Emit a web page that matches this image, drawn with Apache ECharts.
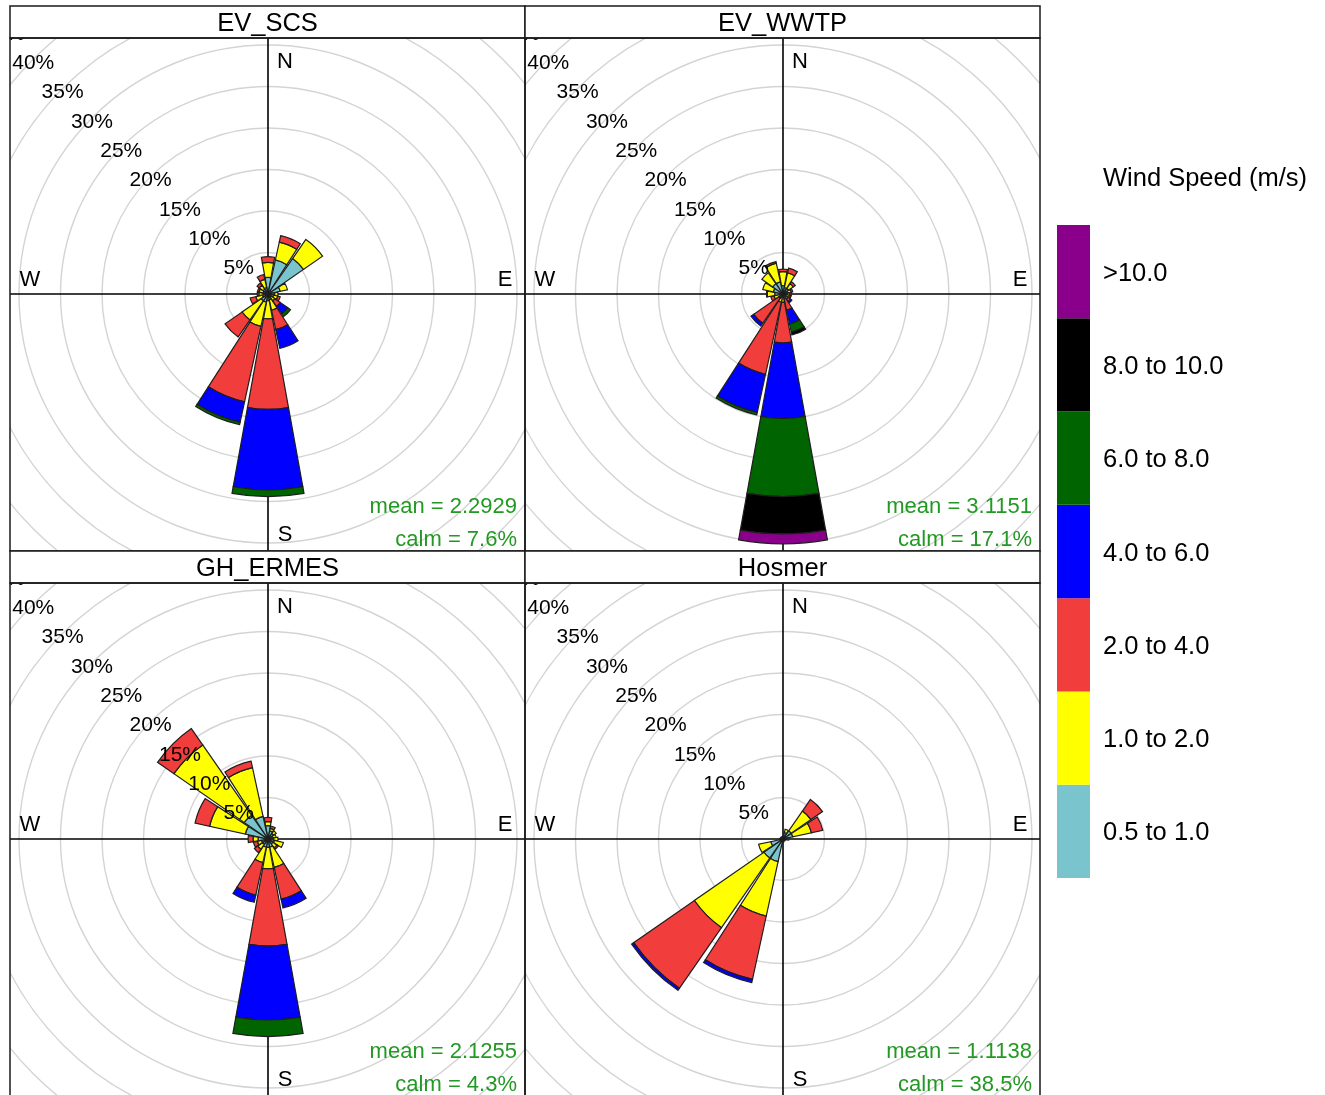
<!DOCTYPE html>
<html>
<head>
<meta charset="utf-8">
<script src="https://cdn.jsdelivr.net/npm/echarts@6/dist/echarts.min.js"></script>
<style>
  html, body { margin: 0; padding: 0; background: #ffffff; }
  #wrap { position: relative; width: 1325px; height: 1095px; overflow: hidden; }
  .panel { position: absolute; width: 515px; height: 513px; }
  #bg { position: absolute; left: 0; top: 0; width: 1325px; height: 1095px; z-index: 5; pointer-events: none; }
</style>
</head>
<body>
<div id="wrap">
  <div id="p0" class="panel" style="left:10px;top:38px"></div>
  <div id="p1" class="panel" style="left:525px;top:38px"></div>
  <div id="p2" class="panel" style="left:10px;top:583px"></div>
  <div id="p3" class="panel" style="left:525px;top:583px"></div>
  <div id="bg"></div>
</div>
<script>
// ---------------- DATA ----------------
const directions = ['N','NNE','NE','ENE','E','ESE','SE','SSE','S','SSW','SW','WSW','W','WNW','NW','NNW'];
const speedBins = ['0.5 to 1.0','1.0 to 2.0','2.0 to 4.0','4.0 to 6.0','6.0 to 8.0','8.0 to 10.0','>10.0'];
const binColors = ['#7AC5CD','#FFFF00','#F23D3D','#0000FF','#006400','#000000','#8B008B'];
const panelNames = ['EV_SCS','EV_WWTP','GH_ERMES','Hosmer'];
const panelMeans = ['2.2929','3.1151','2.1255','1.1138'];
const panelCalms = ['7.6%','17.1%','4.3%','38.5%'];
const radiusMax = 45;      // percent
const radiusStep = 5;      // percent
const compassLabels = ['N','E','S','W'];
const legendTitle = 'Wind Speed (m/s)';

// frequency (%) per direction for each speed bin
const EV_SCS_ws05_1  = [2.0,4.2,5.2,1.5,0.8,0.7,0.5,0.7,0.8,1.0,1.0,0.7,0.6,0.6,0.7,0.8];
const EV_SCS_ws1_2   = [1.8,2.2,2.8,0.9,0.4,0.5,0.5,1.3,2.2,3.0,2.8,0.8,0.5,0.5,0.6,1.0];
const EV_SCS_ws2_4   = [0.7,0.8,0,0,0,0.3,0.8,2.4,10.9,9.3,2.5,0.7,0.2,0.2,0.3,0.6];
const EV_SCS_ws4_6   = [0,0,0,0,0,0,1.1,2.3,9.7,2.5,0,0,0,0,0,0];
const EV_SCS_ws6_8   = [0,0,0,0,0,0,0.4,0,0.8,0.3,0,0,0,0,0,0];
const EV_SCS_ws8_10  = [0,0,0,0,0,0,0,0,0,0,0,0,0,0,0,0];
const EV_SCS_ws10p   = [0,0,0,0,0,0,0,0,0,0,0,0,0,0,0,0];

const EV_WWTP_ws05_1 = [1.0,0.8,0.8,0.6,0.5,0.4,0.3,0.2,0.3,0.3,0.2,0.4,1.0,1.2,1.5,1.5];
const EV_WWTP_ws1_2  = [1.7,1.8,0.7,0.4,0.3,0.4,0.4,0.4,0.7,0.7,0.4,0.7,0.9,1.3,1.6,2.3];
const EV_WWTP_ws2_4  = [0.3,0.6,0.3,0.2,0.2,0.2,0.4,1.4,4.9,8.9,3.7,0.4,0.1,0,0,0.2];
const EV_WWTP_ws4_6  = [0,0,0,0,0,0,0.2,1.7,9.1,4.7,0.4,0,0,0,0,0];
const EV_WWTP_ws6_8  = [0,0,0,0,0,0,0,1.0,9.4,0.3,0,0,0,0,0,0];
const EV_WWTP_ws8_10 = [0,0,0,0,0,0,0,0.35,4.5,0,0,0,0,0,0,0];
const EV_WWTP_ws10p  = [0,0,0,0,0,0,0,0,1.2,0,0,0,0,0,0,0];

const GH_ERMES_ws05_1 = [1.6,1.0,0.8,0.6,0.7,0.8,0.7,1.0,1.0,1.0,0.8,0.8,1.2,2.8,3.5,2.8];
const GH_ERMES_ws1_2  = [0.5,0.3,0.4,0.4,0.5,1.1,0.6,2.5,2.6,1.9,0.7,0.5,0.6,4.4,10.3,6.0];
const GH_ERMES_ws2_4  = [0.5,0.3,0,0,0,0,0.2,3.9,9.3,4.0,0.5,0.5,0.6,1.8,2.4,0.8];
const GH_ERMES_ws4_6  = [0,0,0,0,0,0,0,1.1,8.9,0.9,0,0,0,0,0,0];
const GH_ERMES_ws6_8  = [0,0,0,0,0,0,0,0,2.0,0,0,0,0,0,0,0];
const GH_ERMES_ws8_10 = [0,0,0,0,0,0,0,0,0,0,0,0,0,0,0,0];
const GH_ERMES_ws10p  = [0,0,0,0,0,0,0,0,0,0,0,0,0,0,0,0];

const Hosmer_ws05_1 = [0.3,0.8,1.2,1.2,0.5,0.3,0.2,0.3,0.4,2.8,2.8,1.5,0.4,0.3,0.3,0.2];
const Hosmer_ws1_2  = [0,0.4,2.9,2.3,0.2,0,0,0,0,6.7,10.2,1.5,0,0,0,0];
const Hosmer_ws2_4  = [0,0,1.7,1.4,0,0,0,0,0,7.8,8.9,0,0,0,0,0];
const Hosmer_ws4_6  = [0,0,0,0,0,0,0,0,0,0.4,0.3,0,0,0,0,0];
const Hosmer_ws6_8  = [0,0,0,0,0,0,0,0,0,0,0,0,0,0,0,0];
const Hosmer_ws8_10 = [0,0,0,0,0,0,0,0,0,0,0,0,0,0,0,0];
const Hosmer_ws10p  = [0,0,0,0,0,0,0,0,0,0,0,0,0,0,0,0];

const panelBins = [
  [EV_SCS_ws05_1, EV_SCS_ws1_2, EV_SCS_ws2_4, EV_SCS_ws4_6, EV_SCS_ws6_8, EV_SCS_ws8_10, EV_SCS_ws10p],
  [EV_WWTP_ws05_1, EV_WWTP_ws1_2, EV_WWTP_ws2_4, EV_WWTP_ws4_6, EV_WWTP_ws6_8, EV_WWTP_ws8_10, EV_WWTP_ws10p],
  [GH_ERMES_ws05_1, GH_ERMES_ws1_2, GH_ERMES_ws2_4, GH_ERMES_ws4_6, GH_ERMES_ws6_8, GH_ERMES_ws8_10, GH_ERMES_ws10p],
  [Hosmer_ws05_1, Hosmer_ws1_2, Hosmer_ws2_4, Hosmer_ws4_6, Hosmer_ws6_8, Hosmer_ws8_10, Hosmer_ws10p]
];

// ---------------- LAYOUT ----------------
const FONT = '"Liberation Sans", Arial, Helvetica, sans-serif';
const PW = 515, PH = 513;
const CX = 258, CY = 256;
const LABEL_DY = 4;
const PX_PER_PCT = 8.3;
const GREEN = '#229922';

function buildPanel(idx) {
  const chart = echarts.init(document.getElementById('p' + idx), null, { renderer: 'canvas' });
  const bins = panelBins[idx];
  const series = bins.map((vals, b) => ({
    type: 'bar',
    coordinateSystem: 'polar',
    polarIndex: 0,
    stack: 'ws',
    name: speedBins[b],
    data: vals.map(v => (v > 0 ? v : '-')),
    barWidth: '91%',
    itemStyle: { color: binColors[b], borderColor: '#1e1e1e', borderWidth: 1.2 },
    silent: true,
    z: 3
  }));
  const R = radiusMax * PX_PER_PCT;
  const txt = (x, y, text, align, size, color, z) => ({
    type: 'text', x: x, y: y, z: z,
    style: { text: text, font: size + 'px ' + FONT, fill: color || '#000',
             textAlign: align, align: align, textVerticalAlign: 'middle', verticalAlign: 'middle' }
  });
  chart.setOption({
    animation: false,
    backgroundColor: 'transparent',
    polar: [
      { center: [CX, CY], radius: [0, R] },
      { center: [CX, CY + LABEL_DY], radius: [0, R] }
    ],
    angleAxis: [
      { polarIndex: 0, type: 'category', data: directions, startAngle: 90 + 360 / directions.length / 2,
        clockwise: true, axisLine: { show: false }, axisTick: { show: false },
        axisLabel: { show: false }, splitLine: { show: false } },
      { polarIndex: 1, type: 'value', min: 0, max: 360, startAngle: 135, clockwise: true,
        axisLine: { show: false }, axisTick: { show: false }, axisLabel: { show: false }, splitLine: { show: false } }
    ],
    radiusAxis: [
      { polarIndex: 0, type: 'value', min: 0, max: radiusMax, interval: radiusStep,
        axisLine: { show: false }, axisTick: { show: false }, axisLabel: { show: false },
        splitLine: { show: true, lineStyle: { color: '#d4d4d4', width: 1.4 } } },
      { polarIndex: 1, type: 'value', min: 0, max: radiusMax, interval: radiusStep, z: 10,
        axisLine: { show: false }, axisTick: { show: false }, splitLine: { show: false },
        axisLabel: { show: true, margin: 0, align: 'center', verticalAlign: 'middle',
                     fontSize: 21, fontFamily: FONT, color: '#000',
                     formatter: v => (v === 0 ? '' : v + '%') } }
    ],
    graphic: [
      { type: 'line', z: 1, shape: { x1: 0, y1: CY, x2: PW, y2: CY }, style: { stroke: '#000', lineWidth: 1.6 } },
      { type: 'line', z: 1, shape: { x1: CX, y1: 0, x2: CX, y2: PH }, style: { stroke: '#000', lineWidth: 1.6 } },
      txt(CX + 17, 24, compassLabels[0], 'center', 22, '#000', 1),
      txt(PW - 20, CY - 14, compassLabels[1], 'center', 22, '#000', 1),
      txt(CX + 17, 497, compassLabels[2], 'center', 22, '#000', 1),
      txt(20, CY - 14, compassLabels[3], 'center', 22, '#000', 1),
      txt(507, 469, 'mean = ' + panelMeans[idx], 'right', 22, GREEN, 20),
      txt(507, 502, 'calm = ' + panelCalms[idx], 'right', 22, GREEN, 20)
    ],
    series: series
  });
}
for (let i = 0; i < 4; i++) buildPanel(i);

// ---------------- FRAME, STRIPS, LEGEND ----------------
const bg = echarts.init(document.getElementById('bg'), null, { renderer: 'canvas' });
const colX = [10, 525];
const stripTop = [6, 551];
const STRIP_H = 32;
const g = [];
panelNames.forEach((name, i) => {
  const x = colX[i % 2];
  const y = stripTop[Math.floor(i / 2)];
  g.push({ type: 'rect', shape: { x: x, y: y, width: PW, height: STRIP_H },
           style: { fill: '#ffffff', stroke: '#1a1a1a', lineWidth: 1.5 } });
  g.push({ type: 'text', x: x + PW / 2, y: y + STRIP_H / 2 + 2,
           style: { text: name, font: '25.5px ' + FONT, fill: '#000', textAlign: 'center', align: 'center',
                    textVerticalAlign: 'middle', verticalAlign: 'middle' } });
  g.push({ type: 'rect', shape: { x: x, y: y + STRIP_H, width: PW, height: PH },
           style: { fill: null, stroke: '#1a1a1a', lineWidth: 1.5 } });
});
// legend colour bar
const LEG_X = 1057, LEG_W = 33, LEG_TOP = 225, LEG_BOTTOM = 878;
const segH = (LEG_BOTTOM - LEG_TOP) / speedBins.length;
speedBins.forEach((lab, b) => {
  const yTop = LEG_BOTTOM - (b + 1) * segH;
  g.push({ type: 'rect', shape: { x: LEG_X, y: yTop, width: LEG_W, height: segH },
           style: { fill: binColors[b], stroke: null } });
  g.push({ type: 'text', x: 1103, y: yTop + segH / 2 + 2,
           style: { text: lab, font: '25.5px ' + FONT, fill: '#000', textAlign: 'left', align: 'left',
                    textVerticalAlign: 'middle', verticalAlign: 'middle' } });
});
g.push({ type: 'text', x: 1103, y: 179,
         style: { text: legendTitle, font: '25.5px ' + FONT, fill: '#000', textAlign: 'left', align: 'left',
                  textVerticalAlign: 'middle', verticalAlign: 'middle' } });
bg.setOption({ animation: false, backgroundColor: 'transparent', graphic: g });
</script>
</body>
</html>
